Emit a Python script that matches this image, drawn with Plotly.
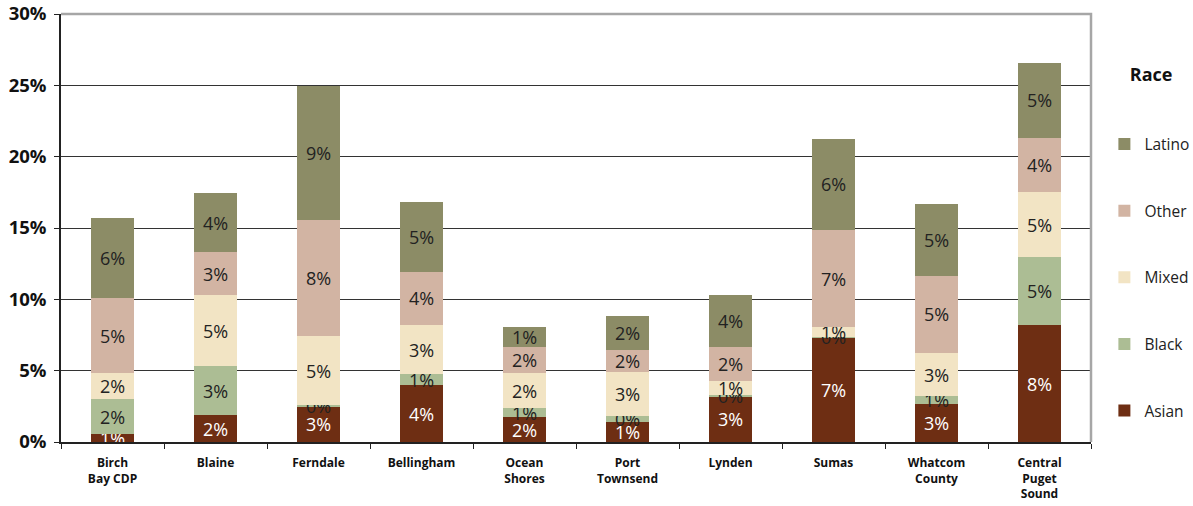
import plotly.graph_objects as go

categories = ["Birch<br>Bay CDP", "Blaine", "Ferndale", "Bellingham", "Ocean<br>Shores",
              "Port<br>Townsend", "Lynden", "Sumas", "Whatcom<br>County", "Central<br>Puget<br>Sound"]

asian  = [0.54, 1.87, 2.52, 3.97, 1.73, 1.38, 3.20, 7.33, 2.64, 8.17]
black  = [2.45, 3.43, 0.10, 0.77, 0.63, 0.45, 0.07, 0.05, 0.56, 4.77]
mixed  = [1.82, 4.97, 4.78, 3.43, 2.45, 3.08, 0.98, 0.65, 3.01, 4.55]
other  = [5.25, 3.02, 8.13, 3.78, 1.82, 1.54, 2.38, 6.86, 5.46, 3.85]
latino = [5.65, 4.13, 9.43, 4.84, 1.40, 2.38, 3.64, 6.38, 4.98, 5.25]

series = [
    ("Asian", asian, "#6E2E13", "white", 5),
    ("Black", black, "#ACBD94", "#222222", 4),
    ("Mixed", mixed, "#F2E4C4", "#222222", 3),
    ("Other", other, "#D2B4A3", "#222222", 2),
    ("Latino", latino, "#8C8C66", "#222222", 1),
]

fig = go.Figure()
for name, vals, color, tcolor, rank in series:
    fig.add_trace(go.Bar(
        name=name, x=categories, y=vals,
        marker=dict(color=color, line=dict(width=0)),
        text=[f"{round(v)}%" for v in vals],
        textposition="inside", insidetextanchor="middle", textangle=0,
        textfont=dict(family="Open Sans", size=18, color=tcolor),
        cliponaxis=False, legendgroup=name, legendrank=rank,
        hoverinfo="skip",
    ))

fig.update_layout(
    barmode="stack", bargap=0.59,
    width=1193, height=506,
    margin=dict(l=61, r=102, t=14, b=64, autoexpand=False),
    paper_bgcolor="white", plot_bgcolor="white",
    uniformtext=dict(minsize=18, mode="show"),
    font=dict(family="Open Sans", color="#111111"),
    legend=dict(
        title=dict(text="\u00a0\u00a0\u00a0\u00a0\u00a0<b>Race</b><br> <br> ", font=dict(size=18, color="#111111")),
        x=1.013, xanchor="left", y=0.899, yanchor="top",
        traceorder="grouped", tracegroupgap=43.5,
        font=dict(size=15.5, color="#222222"),
        itemwidth=30,
    ),
    xaxis=dict(
        showline=True, linecolor="#222222", linewidth=1.5,
        ticks="outside", tickson="boundaries", ticklen=5, tickcolor="#222222",
        tickfont=dict(size=12, weight="bold", color="#111111"),
        ticklabelstandoff=9,
        showgrid=False, automargin=False,
    ),
    yaxis=dict(
        range=[0, 30], dtick=5, ticksuffix="%",
        showline=True, linecolor="#222222", linewidth=1.5,
        ticks="outside", ticklen=5, tickcolor="#222222",
        tickfont=dict(size=18.5, weight="bold", color="#111111"),
        ticklabelstandoff=4,
        showgrid=True, gridcolor="#333333", gridwidth=1,
        zeroline=False, automargin=False,
    ),
    shapes=[dict(type="path", xref="paper", yref="paper",
                 path="M 0,1 L 1,1 L 1,0", line=dict(color="#A6A6A6", width=2.5),
                 layer="above")],
)

fig.write_html("out.html", config={"displayModeBar": False},
               post_script="document.body.style.margin='0px';")
